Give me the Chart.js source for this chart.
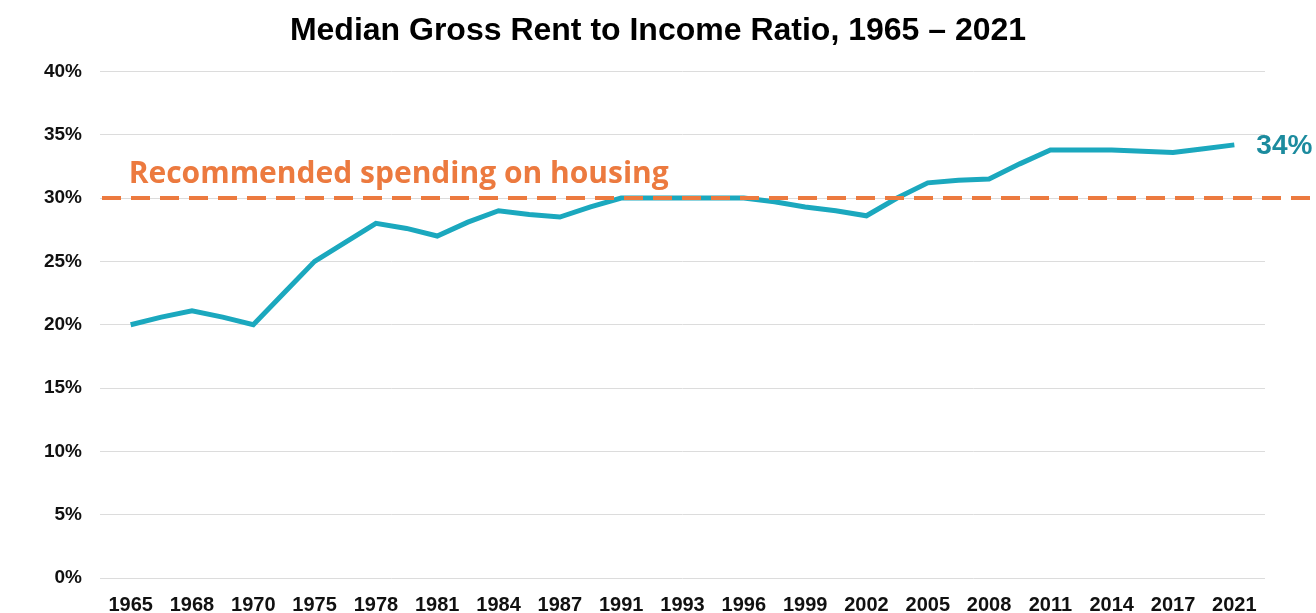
<!DOCTYPE html>
<html>
<head>
<meta charset="utf-8">
<title>Median Gross Rent to Income Ratio</title>
<script src="https://cdn.jsdelivr.net/npm/chart.js@4.4.1/dist/chart.umd.min.js"></script>
<style>
  html, body { margin: 0; padding: 0; background: #fff; }
  #wrap { width: 1316px; height: 613px; position: relative; }
</style>
</head>
<body>
<div id="wrap"><canvas id="rentChart"></canvas></div>
<script>
// tick labels on the x axis (one per whole step)
const years = ['1965', '1968', '1970', '1975', '1978', '1981', '1984', '1987', '1991', '1993',
  '1996', '1999', '2002', '2005', '2008', '2011', '2014', '2017', '2021'];

// rent-to-income ratio (%), one value per half step between the labelled years
const ratio = [
  20.0, 20.6, 21.1, 20.6, 20.0, 22.5, 25.0, 26.5, 28.0, 27.6,
  27.0, 28.1, 29.0, 28.7, 28.5, 29.3, 30.0, 30.0, 30.0, 30.0,
  30.0, 29.7, 29.3, 29.0, 28.6, 30.0, 31.2, 31.4, 31.5, 32.7,
  33.8, 33.8, 33.8, 33.7, 33.6, 33.9, 34.2
];

const recommended = 30;
const recommendedText = 'Recommended spending on housing';

const lineColor = '#1ba8be';
const orange = '#ec7a3f';
const labelTeal = '#1c8b9e';
const arial = '"Liberation Sans", Arial, sans-serif';

const points = ratio.map((v, i) => ({ x: i / 2, y: v }));

// dashed 30% line, its caption and the end-value label
const annotations = {
  id: 'annotations',
  afterDatasetsDraw(chart) {
    const { ctx, chartArea, scales } = chart;
    const y30 = scales.y.getPixelForValue(recommended);

    ctx.save();
    ctx.strokeStyle = orange;
    ctx.lineWidth = 4;
    ctx.setLineDash([19, 10]);
    ctx.beginPath();
    ctx.moveTo(chartArea.left + 2, y30);
    ctx.lineTo(chart.width - 4, y30);
    ctx.stroke();
    ctx.setLineDash([]);

    ctx.fillStyle = orange;
    ctx.font = 'bold 30px "Open Sans", Lato, sans-serif';
    ctx.textAlign = 'left';
    ctx.textBaseline = 'alphabetic';
    ctx.fillText(recommendedText, scales.x.getPixelForValue(0) - 2, y30 - 15);

    const last = points[points.length - 1];
    const px = scales.x.getPixelForValue(last.x);
    const py = scales.y.getPixelForValue(last.y);
    ctx.fillStyle = labelTeal;
    ctx.font = 'bold 28px ' + arial;
    ctx.textBaseline = 'middle';
    ctx.fillText(Math.round(last.y) + '%', px + 22, py + 1);
    ctx.restore();
  }
};

new Chart(document.getElementById('rentChart').getContext('2d'), {
  type: 'line',
  data: {
    datasets: [{
      label: 'Median gross rent to income',
      data: points,
      borderColor: lineColor,
      backgroundColor: lineColor,
      borderWidth: 5,
      pointRadius: 0,
      tension: 0,
      fill: false
    }]
  },
  options: {
    responsive: true,
    maintainAspectRatio: false,
    animation: false,
    plugins: {
      legend: { display: false },
      tooltip: { enabled: false },
      title: {
        display: true,
        text: 'Median Gross Rent to Income Ratio, 1965 \u2013 2021',
        color: '#000',
        font: { family: arial, size: 32, weight: 'bold' },
        padding: { top: 12, bottom: 21 }
      }
    },
    scales: {
      x: {
        type: 'linear',
        min: -0.5,
        max: 18.5,
        grid: { display: false, drawTicks: false },
        border: { display: false },
        afterBuildTicks(scale) {
          scale.ticks = years.map((_, i) => ({ value: i }));
        },
        afterFit(scale) { scale.height = 35; },
        ticks: {
          autoSkip: false,
          maxRotation: 0,
          padding: 15,
          color: '#111',
          font: { family: arial, size: 20, weight: 'bold' },
          callback: (v) => years[v]
        }
      },
      y: {
        min: 0,
        max: 40,
        grid: { color: '#dcdcdc', lineWidth: 1, drawTicks: false },
        border: { display: false },
        afterFit(scale) { scale.width = 100; },
        ticks: {
          stepSize: 5,
          padding: 18,
          color: '#111',
          font: { family: arial, size: 19, weight: 'bold' },
          callback: (v) => v + '%'
        }
      },
      // empty right-hand axis that keeps room for the end label
      yRight: {
        position: 'right',
        min: 0,
        max: 40,
        grid: { display: false, drawTicks: false },
        border: { display: false },
        ticks: { display: false },
        afterFit(scale) { scale.width = 51; }
      }
    }
  },
  plugins: [annotations]
});
</script>
</body>
</html>
